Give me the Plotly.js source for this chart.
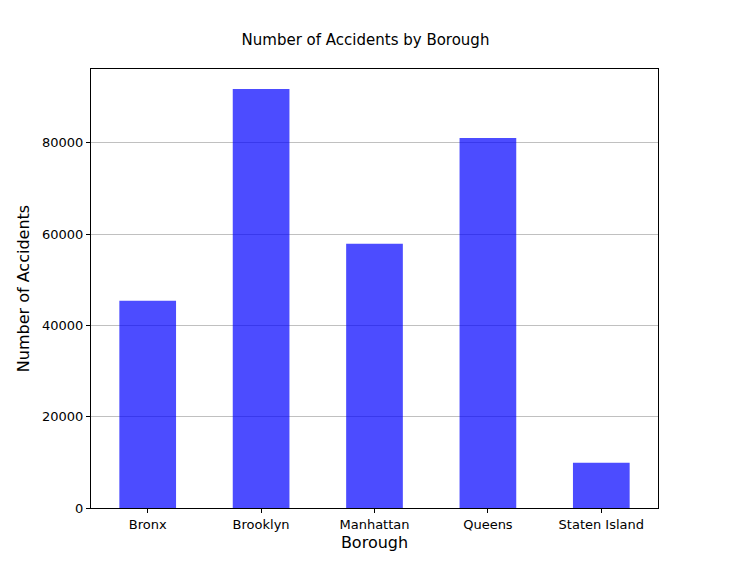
<!DOCTYPE html>
<html>
<head>
<script src="https://cdn.plot.ly/plotly-3.0.1.min.js"></script>
<style>body{margin:0;}</style>
</head>
<body>
<div id="myDiv" style="width:731px;height:571px;"></div>
<script>
var boroughs = ['Bronx', 'Brooklyn', 'Manhattan', 'Queens', 'Staten Island'];
var accidents = [45400, 91800, 57900, 81100, 9900];

var trace = {
  x: boroughs,
  y: accidents,
  type: 'bar',
  width: 0.5,
  marker: {color: 'rgba(0,0,255,0.7)'},
};

var layout = {
  width: 731,
  height: 571,
  font: {family: 'DejaVu Sans', size: 13, color: '#000'},
  title: {text: 'Number of Accidents by Borough', x: 0.5, y: 0.93, yanchor: 'middle', font: {size: 15}},
  margin: {l: 91, r: 73, t: 69, b: 63},
  xaxis: {
    title: {text: 'Borough', standoff: 6},
    range: [-0.5, 4.5],
    showline: true, mirror: true, linecolor: '#000', linewidth: 1,
    ticks: 'outside', ticklen: 4, tickcolor: '#000',
  },
  yaxis: {
    title: {text: 'Number of Accidents', standoff: 8},
    range: [0, 96200],
    tickvals: [0, 20000, 40000, 60000, 80000],
    ticktext: ['0', '20000', '40000', '60000', '80000'],
    showgrid: true, gridcolor: '#c0c0c0', gridwidth: 1,
    zeroline: false,
    showline: true, mirror: true, linecolor: '#000', linewidth: 1,
    ticks: 'outside', ticklen: 4, tickcolor: '#000',
  },
  plot_bgcolor: '#fff',
  paper_bgcolor: '#fff',
  showlegend: false,
};
Plotly.newPlot('myDiv', [trace], layout, {displayModeBar: false});
</script>
</body>
</html>
